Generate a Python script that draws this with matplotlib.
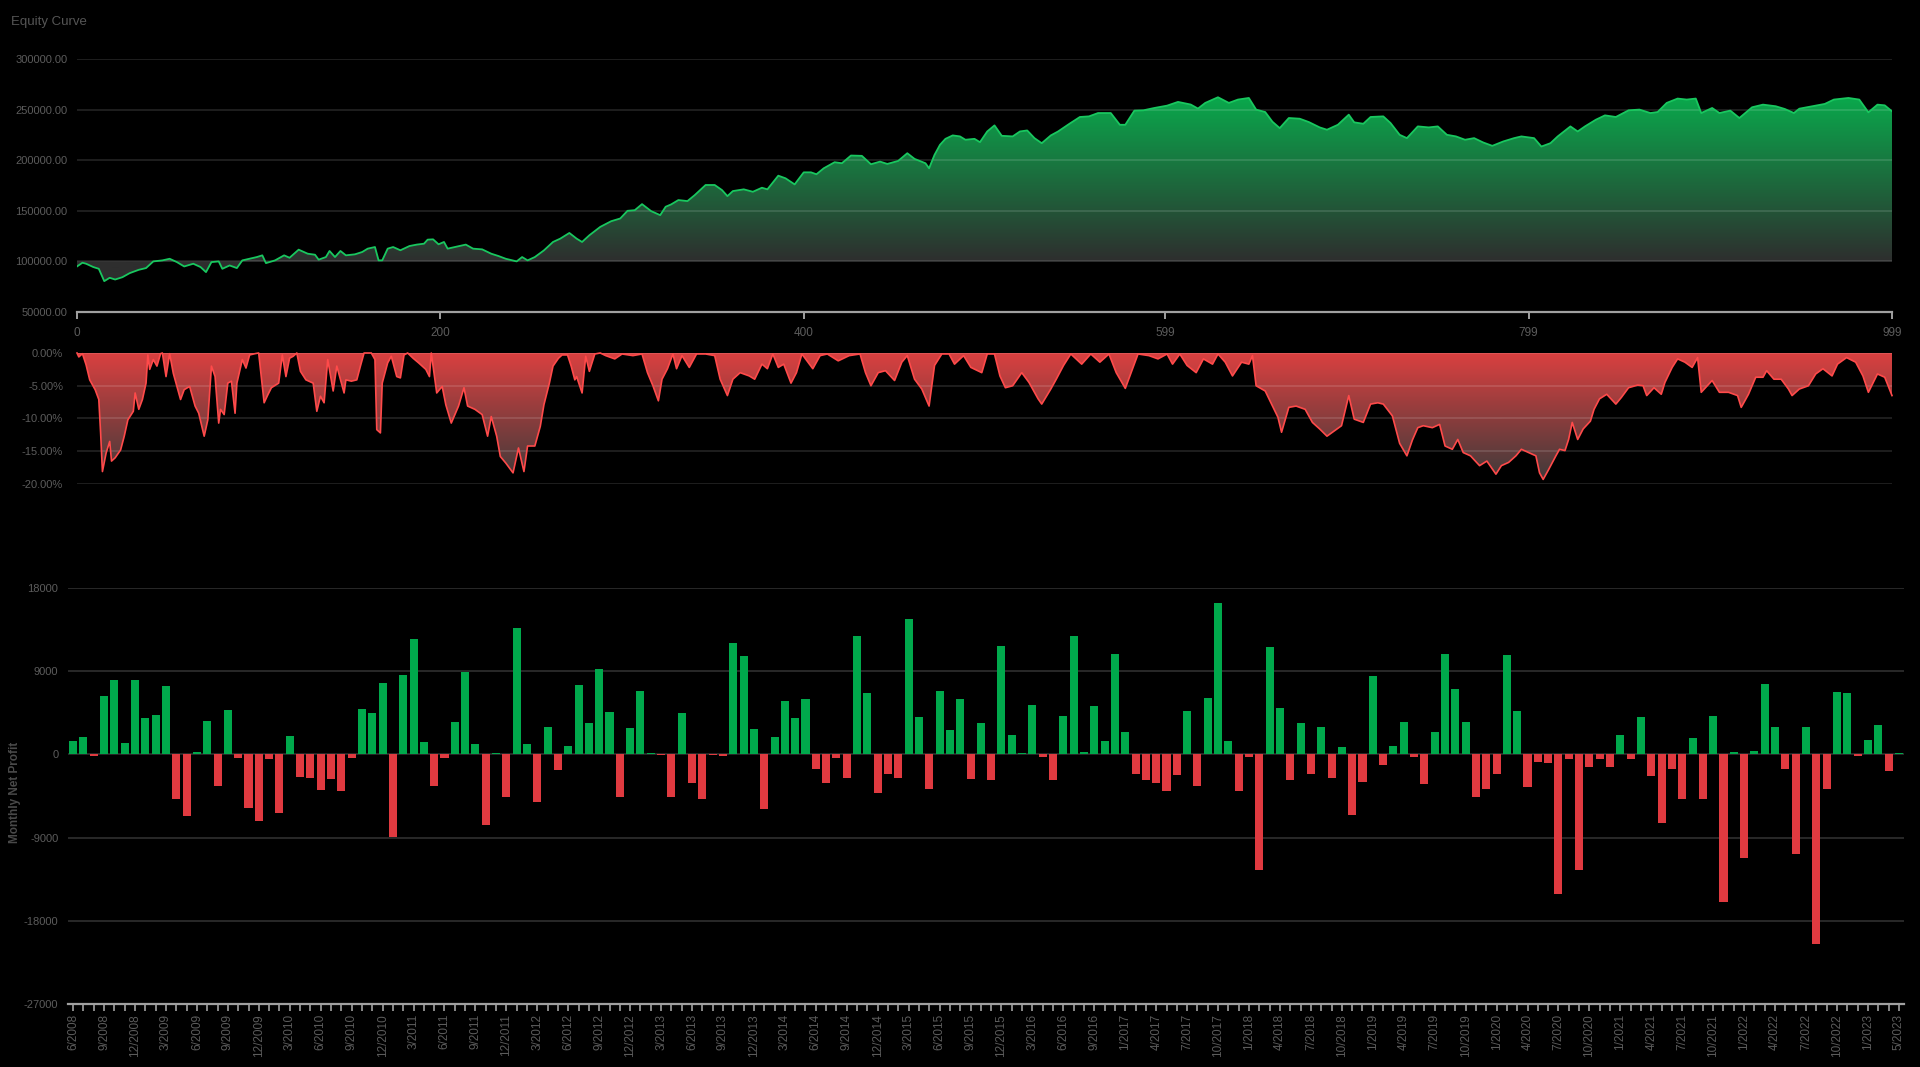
import numpy as np
import matplotlib
matplotlib.use("Agg")
import matplotlib.pyplot as plt
from matplotlib.patches import PathPatch
from matplotlib.path import Path

plt.rcParams['font.family'] = ['Liberation Sans', 'DejaVu Sans']

# ---------------- data ----------------
equity_trade = [0, 3, 5, 9, 12, 15, 18, 21, 25, 29, 34, 38, 42, 47, 51, 55, 59, 64, 68, 71, 74, 78, 80, 84, 88,
                91, 95, 99, 102, 104, 109, 114, 117, 122, 127, 131, 133, 137, 139, 142, 145, 148, 153, 157, 160,
                164, 166, 168, 171, 174, 178, 183, 187, 191, 193, 196, 199, 202, 204, 208, 214, 218, 223, 228,
                232, 236, 242, 245, 248, 252, 257, 262, 266, 271, 275, 278, 282, 288, 294, 299, 303, 307, 311,
                316, 321, 324, 327, 331, 336, 340, 346, 351, 355, 358, 361, 367, 372, 377, 380, 386, 390, 395,
                400, 404, 407, 411, 417, 421, 426, 432, 437, 442, 446, 452, 457, 461, 467, 469, 472, 475, 478,
                482, 486, 489, 494, 497, 501, 505, 509, 515, 519, 523, 527, 531, 536, 540, 546, 552, 557, 562,
                569, 574, 577, 582, 587, 593, 600, 606, 613, 617, 621, 628, 634, 639, 645, 649, 654, 658, 662,
                667, 673, 678, 684, 688, 694, 700, 703, 708, 712, 719, 723, 728, 732, 738, 744, 749, 754, 759,
                764, 769, 774, 779, 785, 791, 795, 802, 806, 811, 815, 822, 826, 830, 836, 841, 847, 854, 860,
                866, 870, 875, 881, 886, 891, 894, 900, 904, 910, 915, 922, 928, 935, 940, 945, 948, 955, 962,
                967, 975, 981, 986, 991, 995, 999]
equity_value = [95000, 98700, 97700, 94400, 92700, 80500, 83800, 82100, 84400, 88400, 91700, 93400, 100000,
                101000, 102600, 99300, 95000, 97700, 94400, 89400, 99300, 100000, 92700, 96000, 93400, 101000,
                102600, 104300, 106000, 98300, 101000, 106000, 103600, 111600, 107600, 106600, 101700, 104300,
                110300, 104300, 110300, 106000, 107000, 109300, 112600, 114200, 101000, 101000, 112600, 114200,
                111000, 115200, 116600, 117500, 121500, 121800, 116900, 119200, 112600, 114200, 116600, 112600,
                111900, 107600, 105300, 102600, 100000, 104300, 101000, 104300, 110900, 119200, 122500, 128100,
                122500, 119200, 125800, 134100, 139700, 142400, 150000, 150600, 156600, 149700, 145700, 154000,
                156300, 160600, 159600, 165500, 175500, 175500, 170500, 164500, 169500, 171200, 168800, 172800,
                171200, 184700, 182100, 176100, 188000, 188000, 186100, 192000, 198000, 197000, 204600, 204300,
                196000, 198600, 196300, 199300, 206900, 201300, 197000, 192000, 205300, 215200, 221100, 224500,
                223500, 220200, 221100, 217800, 228400, 234400, 224100, 223500, 228400, 229400, 221800, 216800,
                224500, 228400, 235700, 242700, 243300, 246600, 246600, 235000, 235000, 249000, 249300, 251600,
                253900, 257600, 255000, 251000, 256600, 262200, 256600, 259900, 261500, 250000, 247600, 238000,
                231700, 241700, 241000, 237700, 232400, 230100, 235000, 245000, 237400, 236000, 242700, 243300,
                236700, 225100, 221800, 233400, 232400, 233400, 225100, 223500, 220200, 221800, 217500, 214200,
                218500, 221800, 223500, 221800, 213500, 216800, 223500, 233400, 228400, 233400, 240000, 244300,
                242700, 249300, 250000, 246600, 247600, 256600, 260900, 259900, 260900, 246600, 251600, 246600,
                249000, 241700, 252300, 254900, 253300, 250600, 246600, 250900, 253300, 255600, 259900, 261500,
                259900, 247300, 254900, 254200, 248300]

dd_trade = [0, 1, 3, 5, 7, 10, 12, 13, 14, 16, 18, 19, 21, 24, 26, 28, 31, 32, 34, 36, 38, 39, 40, 42, 44, 46,
            47, 49, 51, 53, 55, 57, 59, 62, 65, 67, 70, 72, 74, 76, 78, 79, 81, 83, 85, 87, 88, 91, 93, 95, 98,
            100, 102, 103, 105, 107, 111, 113, 115, 117, 119, 121, 123, 126, 130, 132, 134, 136, 138, 141, 143,
            147, 148, 151, 154, 156, 158, 162, 164, 165, 167, 168, 171, 173, 176, 178, 180, 182, 185, 188, 192,
            194, 195, 198, 201, 203, 206, 210, 213, 215, 219, 223, 226, 228, 231, 233, 236, 240, 243, 246, 248,
            252, 255, 257, 260, 262, 265, 267, 270, 272, 274, 275, 278, 280, 282, 285, 288, 291, 296, 300, 306,
            311, 314, 317, 320, 322, 325, 328, 330, 333, 337, 341, 346, 351, 354, 358, 361, 365, 370, 373, 377,
            380, 383, 386, 389, 393, 396, 399, 405, 409, 413, 419, 425, 431, 434, 437, 441, 445, 450, 454, 457,
            461, 465, 469, 472, 476, 480, 483, 488, 492, 498, 501, 505, 508, 511, 515, 520, 524, 529, 531, 536,
            539, 543, 547, 553, 558, 563, 568, 572, 577, 581, 584, 590, 595, 600, 603, 607, 611, 616, 620, 625,
            628, 632, 636, 641, 645, 647, 649, 654, 658, 661, 663, 667, 671, 676, 680, 684, 688, 692, 696, 700,
            703, 708, 712, 716, 719, 724, 728, 732, 735, 738, 741, 746, 750, 753, 757, 760, 763, 767, 772, 776,
            781, 784, 788, 792, 795, 799, 803, 805, 807, 810, 814, 816, 819, 821, 823, 826, 829, 833, 835, 838,
            842, 847, 850, 854, 859, 862, 864, 868, 872, 874, 878, 881, 885, 889, 892, 894, 900, 904, 909, 914,
            916, 920, 924, 928, 930, 934, 938, 942, 944, 948, 953, 957, 961, 966, 969, 974, 979, 983, 986, 991,
            995, 999]
dd_pct = [0.0, -0.6, -0.1, -1.8, -4.1, -5.6, -7.1, -12.2, -18.1, -15.3, -13.5, -16.5, -16.0, -14.8, -12.7,
          -10.2, -8.9, -6.1, -8.6, -7.1, -4.6, -0.3, -2.5, -1.0, -2.0, -0.1, 0.0, -3.6, -0.1, -3.1, -5.1, -7.1,
          -5.6, -5.1, -8.1, -9.2, -12.7, -10.2, -2.0, -3.6, -10.7, -8.6, -9.4, -4.6, -4.3, -9.2, -4.6, -1.0,
          -2.3, -0.3, -0.1, 0.0, -5.1, -7.6, -6.4, -5.3, -4.6, -0.3, -3.6, -0.8, -0.5, 0.0, -2.8, -4.1, -4.6,
          -8.9, -6.6, -7.6, -1.0, -5.8, -2.0, -6.1, -4.1, -4.3, -4.1, -2.0, 0.0, 0.0, -1.0, -11.7, -12.2, -4.6,
          -1.5, -0.5, -3.6, -3.8, -0.3, 0.0, -0.8, -1.5, -2.5, -3.6, 0.0, -6.1, -5.1, -7.9, -10.7, -8.1, -5.3,
          -8.1, -8.6, -9.4, -12.7, -9.7, -12.7, -15.8, -16.8, -18.3, -14.5, -18.1, -14.2, -14.2, -11.2, -7.9,
          -4.6, -2.0, -0.8, -0.3, -0.3, -2.0, -4.1, -3.6, -6.1, -0.5, -2.8, -0.15, 0.0, -0.4, -0.9, -0.15, -0.4,
          -0.15, -3.0, -5.0, -7.3, -4.0, -2.4, -0.15, -2.4, -0.4, -2.2, -0.15, -0.15, -0.4, -4.0, -6.5, -4.0,
          -3.0, -3.5, -4.0, -1.7, -2.4, -0.15, -2.2, -1.7, -4.6, -3.0, -0.15, -2.4, -0.4, -0.15, -1.2, -0.4,
          -0.15, -3.0, -5.0, -3.0, -2.7, -4.2, -1.4, -0.4, -4.0, -5.5, -8.1, -1.9, -0.15, -0.15, -1.7, -0.4,
          -2.2, -3.0, -0.15, -0.15, -3.5, -5.3, -5.0, -3.0, -4.5, -7.0, -7.8, -5.5, -4.0, -1.9, -0.15, -1.7,
          -0.15, -1.4, -0.15, -3.0, -5.4, -2.4, -0.15, -0.4, -0.9, -0.15, -1.7, -0.15, -1.9, -3.0, -0.9, -1.7,
          -0.15, -1.4, -3.5, -1.4, -1.7, -0.4, -5.0, -5.8, -8.1, -9.8, -12.1, -8.3, -8.1, -8.6, -10.6, -11.6,
          -12.7, -11.9, -11.1, -6.5, -10.1, -10.6, -7.8, -7.6, -7.8, -9.6, -13.8, -15.7, -13.3, -11.4, -11.1,
          -11.4, -10.9, -14.2, -14.7, -13.2, -15.2, -15.7, -17.2, -16.5, -18.5, -17.2, -16.7, -15.7, -14.7,
          -15.2, -15.7, -18.3, -19.3, -17.8, -15.7, -14.7, -14.9, -13.2, -10.6, -13.2, -11.6, -10.4, -8.6,
          -7.0, -6.3, -7.8, -6.8, -5.3, -4.9, -5.0, -6.5, -5.3, -6.3, -4.5, -2.2, -0.9, -1.4, -2.2, -0.7, -6.0,
          -4.2, -6.0, -6.0, -6.5, -8.3, -6.3, -3.7, -3.7, -2.7, -4.0, -4.0, -5.5, -6.5, -5.5, -5.0, -3.2, -2.4,
          -3.5, -1.7, -0.7, -1.4, -3.5, -6.0, -3.2, -3.7, -6.5]

monthly_profit = [1400, 1900, -200, 6300, 8000, 1260, 8000, 3900, 4250, 7400, -4800, -6660, 250, 3640, -3420,
                  4800, -400, -5830, -7200, -470, -6370, 1980, -2400, -2520, -3900, -2700, -4000, -360, 4900,
                  4460, 7740, -8960, 8570, 12490, 1300, -3460, -360, 3530, 8930, 1150, -7600, 150, -4600, 13600,
                  1120, -5180, 2950, -1700, 900, 7520, 3380, 9250, 4570, -4640, 2840, 6880, 100, -70, -4570,
                  4430, -3130, -4820, -100, -200, 12020, 10580, 2770, -5870, 1840, 5720, 3890, 5980, -1580,
                  -3130, -400, -2520, 12820, 6620, -4180, -2120, -2520, 14650, 4070, -3710, 6840, 2660, 5940,
                  -2660, 3420, -2810, 11740, 2050, 150, 5290, -290, -2810, 4180, 12820, 290, 5180, 1440, 10840,
                  2450, -2090, -2740, -3060, -3960, -2200, 4640, -3460, 6120, 16340, 1400, -4000, -320, -12490,
                  11590, 4970, -2810, 3350, -2120, 2920, -2590, 760, -6590, -2950, 8460, -1120, 900, 3490, -250,
                  -3170, 2410, 10800, 7060, 3490, -4570, -3710, -2120, 10730, 4680, -3560, -790, -940, -15080,
                  -470, -12530, -1370, -500, -1400, 2090, -500, 4000, -2340, -7450, -1550, -4860, 1760, -4860,
                  4180, -15980, 290, -11230, 400, 7630, 2990, -1580, -10760, 2990, -20520, -3740, 6770, 6620,
                  -150, 1510, 3130, -1840, 100]

month_tick_labels = ['6/2008', '9/2008', '12/2008', '3/2009', '6/2009', '9/2009', '12/2009', '3/2010',
                     '6/2010', '9/2010', '12/2010', '3/2011', '6/2011', '9/2011', '12/2011', '3/2012', '6/2012',
                     '9/2012', '12/2012', '3/2013', '6/2013', '9/2013', '12/2013', '3/2014', '6/2014', '9/2014',
                     '12/2014', '3/2015', '6/2015', '9/2015', '12/2015', '3/2016', '6/2016', '9/2016', '1/2017',
                     '4/2017', '7/2017', '10/2017', '1/2018', '4/2018', '7/2018', '10/2018', '1/2019', '4/2019',
                     '7/2019', '10/2019', '1/2020', '4/2020', '7/2020', '10/2020', '1/2021', '4/2021', '7/2021',
                     '10/2021', '1/2022', '4/2022', '7/2022', '10/2022', '1/2023', '5/2023']

equity_xticks = [0, 200, 400, 599, 799, 999]
equity_yticks = [50000, 100000, 150000, 200000, 250000, 300000]
dd_yticks = [0, -5, -10, -15, -20]
profit_yticks = [18000, 9000, 0, -9000, -18000, -27000]

# ---------------- styling ----------------
BG = '#000000'
TXT = '#5c5c5c'
AXIS = '#a0a0a0'
GRID_OVER = (1, 1, 1, 0.14)
GREEN_LINE = '#19c75f'
RED_LINE = '#ff4a4a'
BAR_GREEN = '#00a94c'
BAR_RED = '#e03a40'

W, H = 1920, 1067
fig = plt.figure(figsize=(W / 100, H / 100), dpi=100, facecolor=BG)


def ax_px(left, top, right, bottom):
    ax = fig.add_axes([left / W, 1 - bottom / H, (right - left) / W, (bottom - top) / H])
    ax.set_facecolor(BG)
    for s in ax.spines.values():
        s.set_visible(False)
    return ax


def gradient_area(ax, x, y, base, ylo, yhi, v_top, v_bot, c_top, c_bot):
    coll = ax.fill_between(x, y, base, facecolor='none', edgecolor='none', linewidth=0)
    path = Path.make_compound_path(*coll.get_paths())
    patch = PathPatch(path, transform=ax.transData, facecolor='none', edgecolor='none')
    ax.add_patch(patch)
    ys = np.linspace(ylo, yhi, 800)
    t = np.clip((ys - v_bot) / (v_top - v_bot), 0, 1)[:, None]
    c = np.array(c_bot)[None, :] * (1 - t) + np.array(c_top)[None, :] * t
    im = ax.imshow(c[:, None, :], extent=[x[0], x[-1], ylo, yhi], origin='lower',
                   aspect='auto', zorder=1, interpolation='bilinear')
    im.set_clip_path(patch)


# ---- Equity curve ----
ax1 = ax_px(77, 59, 1892, 312)
ex = np.array(equity_trade, dtype=float)
ey = np.array(equity_value, dtype=float)
gradient_area(ax1, ex, ey, 100000, 50000, 300000, 262000, 100000,
              (10 / 255, 168 / 255, 76 / 255), (46 / 255, 46 / 255, 46 / 255))
ax1.plot(ex, ey, color=GREEN_LINE, lw=1.3, zorder=4)
for v in equity_yticks[1:]:
    ax1.axhline(v, color=GRID_OVER, lw=1.2, zorder=3)
ax1.set_xlim(0, 999)
ax1.set_ylim(50000, 300000)
ax1.spines['bottom'].set_visible(True)
ax1.spines['bottom'].set_color(AXIS)
ax1.spines['bottom'].set_linewidth(1.6)
ax1.set_xticks(equity_xticks)
ax1.set_xticklabels([str(v) for v in equity_xticks])
ax1.set_yticks(equity_yticks)
ax1.set_yticklabels([f"{v:.2f}" for v in equity_yticks])
ax1.tick_params(axis='x', colors=AXIS, length=5, width=1.4, pad=6, labelsize=8.5, labelcolor=TXT)
ax1.tick_params(axis='y', length=0, pad=7, labelsize=8, labelcolor=TXT)
fig.text(11 / W, 1 - 22 / H, 'Equity Curve', color='#555555', fontsize=9.5, va='center', ha='left')

# ---- Drawdown ----
ax2 = ax_px(77, 353, 1892, 484)
dx = np.array(dd_trade, dtype=float)
dy = np.array(dd_pct, dtype=float)
gradient_area(ax2, dx, dy, 0, -20, 0, 0, -20,
              (218 / 255, 64 / 255, 64 / 255), (58 / 255, 58 / 255, 58 / 255))
ax2.plot(dx, dy, color=RED_LINE, lw=1.2, zorder=4, clip_on=False)
for v in dd_yticks:
    ax2.axhline(v, color=GRID_OVER, lw=1.2, zorder=3)
ax2.set_xlim(0, 999)
ax2.set_ylim(-20, 0)
ax2.set_xticks([])
ax2.set_yticks(dd_yticks)
ax2.set_yticklabels([f"{v:.2f}%" for v in dd_yticks])
ax2.tick_params(axis='y', length=0, pad=10, labelsize=8, labelcolor=TXT)

# ---- Monthly net profit ----
ax3 = ax_px(68, 587.7, 1904, 1004.3)
n = len(monthly_profit)
cats = np.arange(n)
vals = np.array(monthly_profit, dtype=float)
colors = [BAR_GREEN if v >= 0 else BAR_RED for v in vals]
for v in profit_yticks[:-1]:
    ax3.axhline(v, color='#2f2f2f', lw=1.2, zorder=0)
ax3.bar(cats, vals, width=0.78, color=colors, zorder=2, linewidth=0)
ax3.set_xlim(-0.5, n - 0.5)
ax3.set_ylim(-27000, 18000)
ax3.spines['bottom'].set_visible(True)
ax3.spines['bottom'].set_color(AXIS)
ax3.spines['bottom'].set_linewidth(1.6)
label_pos = list(range(0, n, 3))
ax3.set_xticks(cats)
lbls = [''] * n
for p, l in zip(label_pos, month_tick_labels):
    lbls[p] = l
ax3.set_xticklabels(lbls, rotation=90)
ax3.tick_params(axis='x', colors=AXIS, length=5, width=1.2, pad=2, labelsize=8.5, labelcolor=TXT)
ax3.set_yticks(profit_yticks)
ax3.set_yticklabels([str(v) for v in profit_yticks])
ax3.tick_params(axis='y', length=0, pad=7, labelsize=8, labelcolor=TXT)
fig.text(15 / W, 1 - 792 / H, 'Monthly Net Profit', rotation=90, color='#4a4a4a',
         fontsize=8.5, fontweight='bold', va='center', ha='center')

fig.savefig('out.png', dpi=100, facecolor=BG)
